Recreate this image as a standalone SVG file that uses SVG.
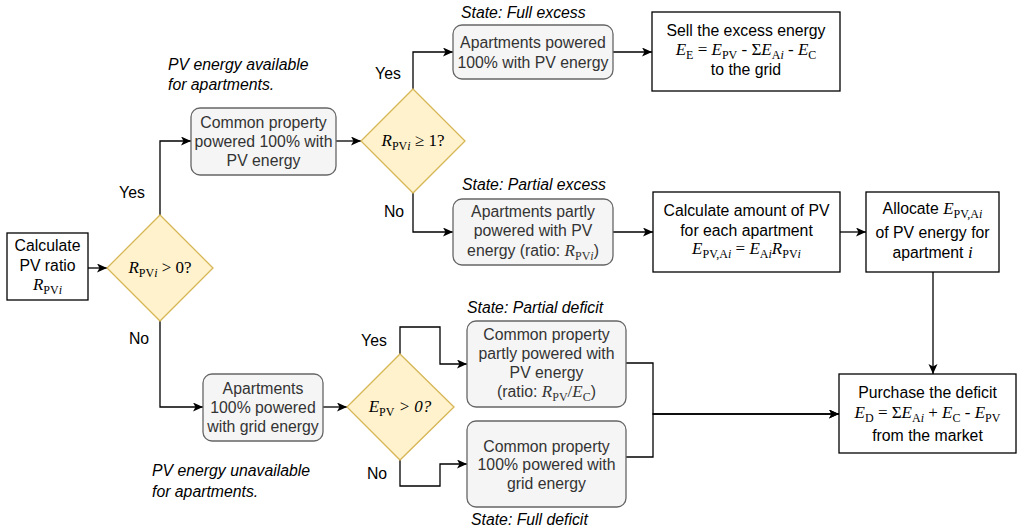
<svg xmlns="http://www.w3.org/2000/svg" width="1017" height="531" viewBox="0 0 1017 531">
  <style>
    .t{font-family:"Liberation Sans",Arial,sans-serif;font-size:15.8px;fill:#000;text-anchor:middle}
    .g{fill:#333}
    .m{font-family:"Liberation Serif","Times New Roman",serif;font-size:17px}
    .i{font-style:italic}
    .s{font-size:12px}
    .note{font-style:italic;text-anchor:start}
    .box{fill:#fff;stroke:#000;stroke-width:1.3}
    .rbox{fill:#f5f5f5;stroke:#666;stroke-width:1.3}
    .dia{fill:#fff2cc;stroke:#d6b656;stroke-width:1.3}
    .c{fill:none;stroke:#000;stroke-width:1.3}
  </style>
  <defs>
    <marker id="arrow" markerUnits="userSpaceOnUse" markerWidth="11" markerHeight="10" refX="10" refY="4.5" orient="auto">
      <path d="M0,0 L10,4.5 L0,9 L2.5,4.5 z" fill="#000"/>
    </marker>
  </defs>
  <rect width="1017" height="531" fill="#fff"/>

  <!-- connectors -->
  <g id="connectors" class="c" marker-end="url(#arrow)">
    <path d="M88,268 H107"/>
    <path d="M160,215 V141 H191"/>
    <path d="M160,321 V407 H203"/>
    <path d="M336,141 H361"/>
    <path d="M413,89 V52 H453"/>
    <path d="M413,193 V232 H453"/>
    <path d="M613,52 H652"/>
    <path d="M613,232 H653"/>
    <path d="M840,232 H866"/>
    <path d="M933,272 V374"/>
    <path d="M323,407 H347"/>
    <path d="M400,354 V327 H440 V364 H467"/>
    <path d="M400,460 V486 H440 V464 H467"/>
    <path d="M626,363 H653 V414 H839"/>
    <path d="M626,457 H653 V414 H839"/>
  </g>

  <!-- edge labels and notes -->
  <g id="labels" class="t">
    <text x="132" y="198">Yes</text>
    <text x="139" y="344">No</text>
    <text x="388" y="79">Yes</text>
    <text x="394" y="217">No</text>
    <text x="374" y="346">Yes</text>
    <text x="377" y="479">No</text>
    <text class="t note" x="168" y="70">PV energy available</text>
    <text class="t note" x="168" y="90">for apartments.</text>
    <text class="t note" x="152" y="476">PV energy unavailable</text>
    <text class="t note" x="152" y="497">for apartments.</text>
    <text class="t note" x="461" y="18">State: Full excess</text>
    <text class="t note" x="462" y="190">State: Partial excess</text>
    <text class="t note" x="467" y="313">State: Partial deficit</text>
    <text class="t note" x="471" y="525">State: Full deficit</text>
  </g>

  <g id="calc-ratio">
    <rect class="box" x="7" y="233" width="81" height="67"/>
    <text class="t" x="47.5" y="251">Calculate</text>
    <text class="t" x="47.5" y="271">PV ratio</text>
    <text class="t m" x="47.5" y="290"><tspan class="i">R</tspan><tspan class="s" dy="4">PV</tspan><tspan class="s i">i</tspan></text>
  </g>

  <g id="check-ratio-positive">
    <path class="dia" d="M160,215 L213,268 L160,321 L107,268 Z"/>
    <text class="t m" x="160" y="273"><tspan class="i">R</tspan><tspan class="s" dy="4">PV</tspan><tspan class="s i">i</tspan><tspan dy="-4"> &gt; 0?</tspan></text>
  </g>

  <g id="common-pv">
    <rect class="rbox" x="191" y="108" width="145" height="67" rx="9"/>
    <text class="t g" x="263.5" y="128">Common property</text>
    <text class="t g" x="263.5" y="147">powered 100% with</text>
    <text class="t g" x="263.5" y="166">PV energy</text>
  </g>

  <g id="check-ratio-one">
    <path class="dia" d="M413,89 L465,141 L413,193 L361,141 Z"/>
    <text class="t m" x="413" y="146"><tspan class="i">R</tspan><tspan class="s" dy="4">PV</tspan><tspan class="s i">i</tspan><tspan dy="-4"> ≥ 1?</tspan></text>
  </g>

  <g id="full-excess">
    <rect class="rbox" x="453" y="25" width="160" height="54" rx="9"/>
    <text class="t g" x="533" y="47.5">Apartments powered</text>
    <text class="t g" x="533" y="67.5">100% with PV energy</text>
  </g>

  <g id="sell-excess">
    <rect class="box" x="652" y="12" width="188" height="79"/>
    <text class="t" x="746" y="36">Sell the excess energy</text>
    <text class="t m" x="746" y="55"><tspan class="i">E</tspan><tspan class="s" dy="4">E</tspan><tspan dy="-4"> = </tspan><tspan class="i">E</tspan><tspan class="s" dy="4">PV</tspan><tspan dy="-4"> - Σ</tspan><tspan class="i">E</tspan><tspan class="s" dy="4">A</tspan><tspan class="s i">i</tspan><tspan dy="-4"> - </tspan><tspan class="i">E</tspan><tspan class="s" dy="4">C</tspan></text>
    <text class="t" x="746" y="74.5">to the grid</text>
  </g>

  <g id="partial-excess">
    <rect class="rbox" x="453" y="199" width="160" height="66" rx="9"/>
    <text class="t g" x="533" y="216.5">Apartments partly</text>
    <text class="t g" x="533" y="236">powered with PV</text>
    <text class="t g" x="533" y="255.5">energy (ratio: <tspan class="m i">R</tspan><tspan class="m s" dy="4">PV</tspan><tspan class="m s i">i</tspan><tspan dy="-4">)</tspan></text>
  </g>

  <g id="calc-amount">
    <rect class="box" x="653" y="192" width="187" height="80"/>
    <text class="t" x="746.5" y="215.5">Calculate amount of PV</text>
    <text class="t" x="746.5" y="235.5">for each apartment</text>
    <text class="t m" x="746.5" y="254"><tspan class="i">E</tspan><tspan class="s" dy="4">PV,A</tspan><tspan class="s i">i</tspan><tspan dy="-4"> = </tspan><tspan class="i">E</tspan><tspan class="s" dy="4">A</tspan><tspan class="s i">i</tspan><tspan class="i" dy="-4">R</tspan><tspan class="s" dy="4">PV</tspan><tspan class="s i">i</tspan></text>
  </g>

  <g id="allocate">
    <rect class="box" x="866" y="192" width="133" height="80"/>
    <text class="t" x="932.5" y="214">Allocate <tspan class="m i">E</tspan><tspan class="m s" dy="4">PV,A</tspan><tspan class="m s i">i</tspan></text>
    <text class="t" x="932.5" y="237.5">of PV energy for</text>
    <text class="t" x="932.5" y="257.5">apartment <tspan class="m i">i</tspan></text>
  </g>

  <g id="grid-apartments">
    <rect class="rbox" x="203" y="374" width="120" height="67" rx="9"/>
    <text class="t g" x="263" y="393.5">Apartments</text>
    <text class="t g" x="263" y="412.5">100% powered</text>
    <text class="t g" x="263" y="432">with grid energy</text>
  </g>

  <g id="check-pv-positive">
    <path class="dia" d="M400,354 L454,407 L400,460 L347,407 Z"/>
    <text class="t m" x="400" y="412"><tspan class="i">E</tspan><tspan class="s" dy="4">PV</tspan><tspan class="i" dy="-4"> &gt; 0?</tspan></text>
  </g>

  <g id="partial-deficit">
    <rect class="rbox" x="467" y="321" width="159" height="86" rx="9"/>
    <text class="t g" x="546.5" y="339.5">Common property</text>
    <text class="t g" x="546.5" y="358.5">partly powered with</text>
    <text class="t g" x="546.5" y="377.5">PV energy</text>
    <text class="t g" x="546.5" y="397">(ratio: <tspan class="m i">R</tspan><tspan class="m s" dy="4">PV</tspan><tspan class="m" dy="-4">/</tspan><tspan class="m i">E</tspan><tspan class="m s" dy="4">C</tspan><tspan dy="-4">)</tspan></text>
  </g>

  <g id="full-deficit">
    <rect class="rbox" x="467" y="421" width="159" height="86" rx="9"/>
    <text class="t g" x="546.5" y="451.5">Common property</text>
    <text class="t g" x="546.5" y="470">100% powered with</text>
    <text class="t g" x="546.5" y="489">grid energy</text>
  </g>

  <g id="purchase-deficit">
    <rect class="box" x="839" y="374" width="177" height="79"/>
    <text class="t" x="927.5" y="397.5">Purchase the deficit</text>
    <text class="t m" x="927.5" y="418"><tspan class="i">E</tspan><tspan class="s" dy="4">D</tspan><tspan dy="-4"> = Σ</tspan><tspan class="i">E</tspan><tspan class="s" dy="4">A</tspan><tspan class="s i">i</tspan><tspan dy="-4"> + </tspan><tspan class="i">E</tspan><tspan class="s" dy="4">C</tspan><tspan dy="-4"> - </tspan><tspan class="i">E</tspan><tspan class="s" dy="4">PV</tspan></text>
    <text class="t" x="927.5" y="440.5">from the market</text>
  </g>
</svg>
